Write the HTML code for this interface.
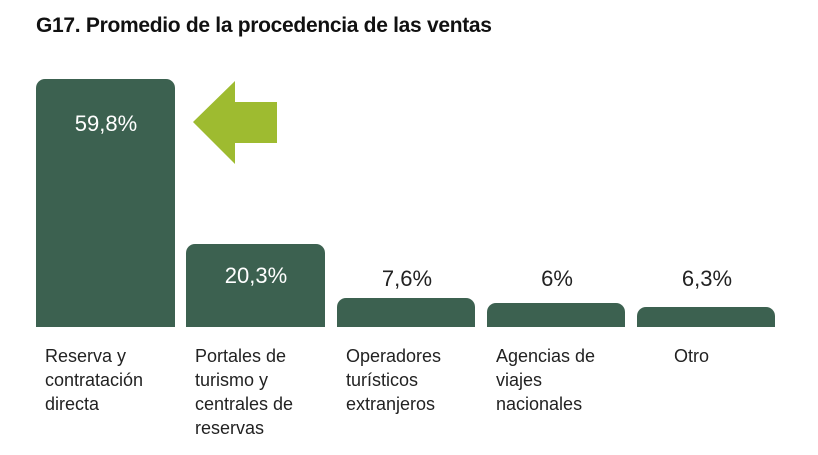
<!DOCTYPE html>
<html><head><style>
body{margin:0;width:818px;height:455px;background:#fff;font-family:"Liberation Sans",sans-serif;position:relative;overflow:hidden}
.t{position:absolute;left:36px;top:14px;font-size:21px;font-weight:bold;color:#111;letter-spacing:-0.3px}
.b{position:absolute;background:#3c6150;border-radius:9px 9px 0 0}
.v{position:absolute;font-size:22px;text-align:center;width:140px}
.l{position:absolute;top:344px;font-size:18px;line-height:24px;color:#222}
</style></head><body>
<div class="t">G17. Promedio de la procedencia de las ventas</div>
<div class="b" style="left:36px;top:79px;width:139px;height:248px"></div>
<div class="b" style="left:186px;top:244px;width:139px;height:83px"></div>
<div class="b" style="left:337px;top:298px;width:138px;height:29px"></div>
<div class="b" style="left:487px;top:303px;width:138px;height:24px"></div>
<div class="b" style="left:637px;top:307px;width:138px;height:20px"></div>
<div class="v" style="left:36px;top:111px;color:#fff">59,8%</div>
<div class="v" style="left:186px;top:263px;color:#fff">20,3%</div>
<div class="v" style="left:337px;top:266px;color:#222">7,6%</div>
<div class="v" style="left:487px;top:266px;color:#222">6%</div>
<div class="v" style="left:637px;top:266px;color:#222">6,3%</div>
<svg style="position:absolute;left:0;top:0" width="818" height="455"><polygon points="193,122 235,81 235,102 277,102 277,143 235,143 235,164" fill="#9ebb30"/></svg>
<div class="l" style="left:45px">Reserva y<br>contratación<br>directa</div>
<div class="l" style="left:195px">Portales de<br>turismo y<br>centrales de<br>reservas</div>
<div class="l" style="left:346px">Operadores<br>turísticos<br>extranjeros</div>
<div class="l" style="left:496px">Agencias de<br>viajes<br>nacionales</div>
<div class="l" style="left:674px">Otro</div>
</body></html>
